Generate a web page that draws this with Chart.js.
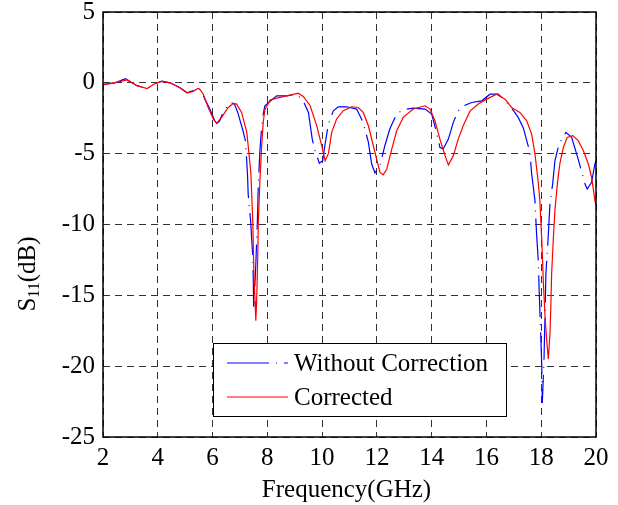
<!DOCTYPE html>
<html>
<head>
<meta charset="utf-8">
<script src="https://cdn.jsdelivr.net/npm/chart.js@4.4.1/dist/chart.umd.min.js"></script>
<style>
html,body{margin:0;padding:0;background:#fff;}
#wrap{width:618px;height:505px;}
</style>
</head>
<body>
<div id="wrap"><canvas id="c" width="618" height="505"></canvas></div>
<script>
const xTickLabels = ['2','4','6','8','10','12','14','16','18','20'];
const yTickLabels = ['5','0','-5','-10','-15','-20','-25'];
const seriesNames = ['Without Correction', 'Corrected'];
const xTitle = 'Frequency(GHz)';
const yTitleMain = 'S', yTitleSub = '11', yTitleTail = '(dB)';

const blueFreq = [2.00,2.44,2.82,3.24,3.61,3.90,4.15,4.45,4.81,5.07,5.29,5.47,5.60,5.72,5.90,6.08,6.16,6.26,6.38,6.55,6.68,6.80,6.92,7.11,7.20,7.24,7.28,7.30,7.39,7.43,7.47,7.49,7.50,7.54,7.58,7.64,7.67,7.73,7.79,7.85,7.91,8.34,8.71,9.07,9.31,9.50,9.64,9.74,9.90,10.02,10.11,10.23,10.41,10.59,10.89,11.26,11.50,11.69,11.81,11.93,12.11,12.29,12.47,12.72,12.96,13.33,13.76,14.00,14.18,14.30,14.42,14.61,14.79,14.97,15.20,15.46,15.83,16.13,16.43,16.80,17.00,17.16,17.35,17.53,17.59,17.65,17.77,17.83,17.89,17.93,17.98,18.02,18.04,18.10,18.14,18.17,18.24,18.32,18.42,18.50,18.65,18.90,19.11,19.29,19.45,19.60,19.68,19.84,19.96,20.00];
const blueVals = [-0.10,0.00,0.30,-0.20,-0.40,-0.05,0.12,0.00,-0.35,-0.70,-0.55,-0.35,-0.60,-1.15,-1.85,-2.68,-2.86,-2.68,-2.09,-1.60,-1.39,-1.50,-2.09,-3.38,-4.08,-5.26,-6.67,-7.84,-9.72,-11.1,-12.3,-14.2,-15.8,-14.5,-12.8,-9.5,-7.14,-4.79,-3.15,-2.20,-1.62,-0.92,-0.92,-0.80,-1.27,-2.09,-3.97,-4.79,-5.68,-5.50,-4.32,-2.90,-1.97,-1.69,-1.69,-1.85,-2.79,-4.20,-5.73,-6.36,-5.85,-4.44,-3.26,-2.20,-1.90,-1.78,-1.85,-2.20,-3.50,-4.55,-4.67,-3.97,-2.79,-1.97,-1.60,-1.39,-1.27,-0.80,-0.80,-1.50,-2.00,-2.44,-3.20,-4.50,-5.00,-6.40,-8.30,-10.65,-12.5,-14.9,-17.7,-20.0,-22.6,-19.6,-16.3,-13.5,-11.4,-8.5,-7.1,-5.5,-4.32,-3.50,-3.85,-5.00,-6.08,-7.14,-7.50,-7.02,-5.73,-5.50];

const redFreq = [2.00,2.44,2.88,3.24,3.61,3.90,4.15,4.45,4.81,5.07,5.29,5.47,5.54,5.66,5.84,6.03,6.15,6.33,6.57,6.76,6.88,7.06,7.25,7.33,7.40,7.47,7.51,7.55,7.58,7.61,7.65,7.67,7.73,7.79,7.85,7.91,8.10,8.34,8.83,9.13,9.31,9.56,9.80,9.98,10.11,10.23,10.35,10.53,10.77,11.08,11.32,11.50,11.69,11.87,12.11,12.23,12.36,12.54,12.72,12.96,13.33,13.76,13.94,14.12,14.30,14.49,14.61,14.79,14.97,15.15,15.40,15.70,16.01,16.37,16.68,16.92,17.22,17.47,17.65,17.77,17.89,17.95,18.02,18.08,18.14,18.20,18.26,18.32,18.35,18.38,18.44,18.50,18.59,18.68,18.81,18.95,19.15,19.35,19.54,19.72,19.84,19.96,20.00];
const redVals = [-0.14,0.02,0.20,-0.20,-0.40,-0.05,0.10,0.00,-0.35,-0.70,-0.60,-0.40,-0.45,-0.80,-1.74,-2.56,-2.86,-2.44,-1.74,-1.45,-1.50,-2.09,-3.50,-5.00,-6.40,-9.90,-13.5,-15.4,-16.8,-15.4,-12.3,-9.9,-6.9,-4.55,-2.8,-1.9,-1.22,-1.08,-0.87,-0.73,-0.96,-1.60,-3.00,-4.40,-5.50,-5.00,-3.50,-2.55,-1.97,-1.69,-1.74,-2.09,-3.03,-4.44,-6.30,-6.50,-6.10,-4.70,-3.40,-2.44,-1.85,-1.62,-1.85,-2.68,-3.97,-5.14,-5.80,-5.14,-3.97,-3.03,-2.00,-1.50,-1.15,-0.80,-1.15,-1.74,-2.09,-2.68,-3.62,-5.00,-7.00,-8.30,-11.1,-14.2,-16.5,-18.2,-19.5,-17.7,-15.8,-13.5,-11.1,-9.0,-7.1,-5.7,-4.55,-3.85,-3.73,-4.08,-4.79,-5.73,-6.67,-8.30,-8.60];

const FONT = '"Liberation Serif", "Times New Roman", serif';
const BLUE_DASH = [42, 7, 1, 7];

function toPts(fs, vs){ return fs.map((f,i)=>({x:f, y:vs[i]})); }

const framePlugin = {
  id: 'frame',
  afterDraw(chart){
    const {ctx, chartArea:a} = chart;
    ctx.save();
    ctx.strokeStyle = '#000';
    ctx.lineWidth = 1.5;
    ctx.setLineDash([]);
    ctx.strokeRect(a.left, a.top, a.right - a.left, a.bottom - a.top);
    ctx.fillStyle = '#000';
    ctx.font = '25px ' + FONT;
    ctx.textAlign = 'center';
    ctx.textBaseline = 'middle';
    ctx.fillText(xTitle, (a.left + a.right)/2 - 3, 490);
    ctx.save();
    ctx.translate(28, 274);
    ctx.rotate(-Math.PI/2);
    ctx.textBaseline = 'middle';
    ctx.textAlign = 'left';
    ctx.font = '25px ' + FONT;
    const wS = ctx.measureText(yTitleMain).width;
    ctx.font = '16px ' + FONT;
    const wSub = ctx.measureText(yTitleSub).width;
    ctx.font = '25px ' + FONT;
    const wT = ctx.measureText(yTitleTail).width;
    let x0 = -(wS + wSub + wT)/2;
    ctx.fillText(yTitleMain, x0, 0);
    ctx.font = '16px ' + FONT;
    ctx.fillText(yTitleSub, x0 + wS, 7);
    ctx.font = '25px ' + FONT;
    ctx.fillText(yTitleTail, x0 + wS + wSub, 0);
    ctx.restore();
    const lx = 213, ly = 343, lw = 293, lh = 73;
    ctx.fillStyle = '#fff';
    ctx.fillRect(lx, ly, lw, lh);
    ctx.strokeStyle = '#000';
    ctx.lineWidth = 1;
    ctx.strokeRect(lx + 0.5, ly + 0.5, lw, lh);
    const ds = chart.data.datasets;
    const rows = [{y: 363}, {y: 397}];
    ds.forEach((d, i) => {
      const r = rows[i];
      ctx.strokeStyle = d.borderColor;
      ctx.lineWidth = d.borderWidth;
      ctx.setLineDash(d.borderDash || []);
      ctx.beginPath();
      ctx.moveTo(227, r.y);
      ctx.lineTo(288, r.y);
      ctx.stroke();
      ctx.setLineDash([]);
      ctx.fillStyle = '#000';
      ctx.font = '25px ' + FONT;
      ctx.textAlign = 'left';
      ctx.textBaseline = 'middle';
      ctx.fillText(d.label, 294, r.y + 1);
    });
    ctx.restore();
  }
};

new Chart(document.getElementById('c'), {
  type: 'line',
  data: {
    datasets: [
      {label: seriesNames[0], data: toPts(blueFreq, blueVals), borderColor: '#0000ff', borderWidth: 1.2, borderDash: BLUE_DASH, pointRadius: 0, tension: 0, fill: false, order: 1},
      {label: seriesNames[1], data: toPts(redFreq, redVals), borderColor: '#ff0000', borderWidth: 1.2, pointRadius: 0, tension: 0, fill: false, order: 0}
    ]
  },
  options: {
    responsive: false,
    animation: false,
    devicePixelRatio: 1,
    layout: {padding: {top: 12, right: 22, left: 0, bottom: 0}},
    plugins: {legend: {display: false}, tooltip: {enabled: false}},
    scales: {
      x: {
        type: 'linear', min: 2, max: 20,
        afterFit(s){ s.height = 68; s.paddingLeft = 0; s.paddingRight = 0; },
        afterBuildTicks(s){ s.ticks = xTickLabels.map(v => ({value: Number(v)})); },
        ticks: {color: '#000', font: {family: FONT, size: 25}, padding: 6, maxRotation: 0, autoSkip: false,
                callback: (v) => xTickLabels.find(t => Number(t) === v) ?? ''},
        grid: {color: '#333', lineWidth: 1, drawTicks: false},
        border: {display: false, dash: [7, 5]}
      },
      y: {
        type: 'linear', min: -25, max: 5,
        afterFit(s){ s.width = 103; s.paddingTop = 0; s.paddingBottom = 0; },
        afterBuildTicks(s){ s.ticks = yTickLabels.map(v => ({value: Number(v)})); },
        ticks: {color: '#000', font: {family: FONT, size: 25}, padding: 8, autoSkip: false,
                callback: (v) => yTickLabels.find(t => Number(t) === v) ?? ''},
        grid: {color: '#333', lineWidth: 1, drawTicks: false},
        border: {display: false, dash: [7, 5]}
      }
    }
  },
  plugins: [framePlugin]
});
</script>
</body>
</html>
